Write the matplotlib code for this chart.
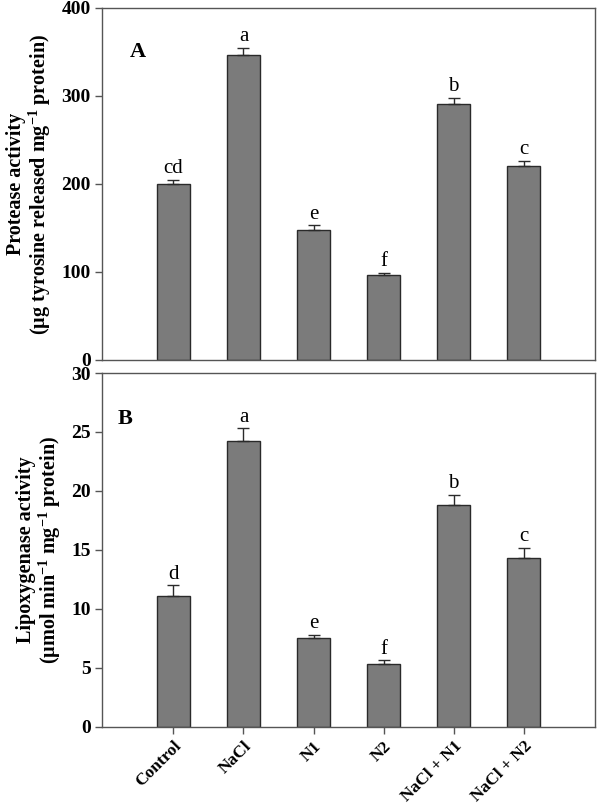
import matplotlib
matplotlib.use("Agg")
import matplotlib.pyplot as plt
import numpy as np

categories = ["Control", "NaCl", "N1", "N2", "NaCl + N1", "NaCl + N2"]
protease = [200, 346, 148, 96, 291, 220]
protease_err = [5, 9, 5, 3, 7, 6]
protease_letters = ["cd", "a", "e", "f", "b", "c"]
lox = [11.1, 24.2, 7.5, 5.35, 18.8, 14.35]
lox_err = [0.9, 1.1, 0.3, 0.3, 0.85, 0.85]
lox_letters = ["d", "a", "e", "f", "b", "c"]

plt.rcParams['font.family'] = ['Liberation Serif', 'DejaVu Serif']
plt.rcParams['mathtext.fontset'] = 'custom'
plt.rcParams['mathtext.rm'] = 'Liberation Serif:bold'
plt.rcParams['mathtext.bf'] = 'Liberation Serif:bold'
plt.rcParams['mathtext.it'] = 'Liberation Serif:bold'

fig = plt.figure(figsize=(5.97, 8.10), dpi=100)
axA = fig.add_axes([0.1709, 0.5556, 0.8258, 0.4346])
axB = fig.add_axes([0.1709, 0.1025, 0.8258, 0.4370])

x = np.arange(len(categories))
bar_color = '#7b7b7b'
edge = '#2a2a2a'
spine_col = '#555555'

def style(ax):
    for s in ax.spines.values():
        s.set_color(spine_col)
        s.set_linewidth(1.0)
    ax.set_xlim(-1.02, 6.02)
    ax.tick_params(axis='y', direction='out', length=5, width=1, color=spine_col, labelsize=14, pad=3)
    for lab in ax.get_yticklabels():
        lab.set_fontweight('bold')

# Panel A
axA.bar(x, protease, width=0.46, color=bar_color, edgecolor=edge, linewidth=1.0, zorder=2)
axA.errorbar(x, protease, yerr=[np.zeros(len(x)), protease_err], fmt='none', ecolor=edge, elinewidth=1.0, capsize=4, capthick=1.0, zorder=3)
for xi, v, e, l in zip(x, protease, protease_err, protease_letters):
    axA.text(xi, v + e + 2, l, ha='center', va='bottom', fontsize=15)
axA.set_ylim(0, 400)
axA.set_yticks([0, 100, 200, 300, 400])
axA.set_xticks([])
style(axA)
axA.set_ylabel("Protease activity\n(µg tyrosine released mg$^{\\mathbf{-1}}$ protein)", fontsize=14.5, fontweight='bold', labelpad=6, linespacing=1.05)
axA.text(0.057, 0.875, "A", transform=axA.transAxes, fontsize=16, fontweight='bold', ha='left', va='center')

# Panel B
axB.bar(x, lox, width=0.46, color=bar_color, edgecolor=edge, linewidth=1.0, zorder=2)
axB.errorbar(x, lox, yerr=[np.zeros(len(x)), lox_err], fmt='none', ecolor=edge, elinewidth=1.0, capsize=4, capthick=1.0, zorder=3)
for xi, v, e, l in zip(x, lox, lox_err, lox_letters):
    axB.text(xi, v + e + 0.15, l, ha='center', va='bottom', fontsize=15)
axB.set_ylim(0, 30)
axB.set_yticks([0, 5, 10, 15, 20, 25, 30])
axB.set_xticks(x)
axB.set_xticklabels(categories, rotation=45, ha='right', rotation_mode='anchor', fontsize=12.5, fontweight='bold')
axB.tick_params(axis='x', direction='out', length=5, width=1, color=spine_col, pad=3)
style(axB)
axB.set_ylabel("Lipoxygenase activity\n(µmol min$^{\\mathbf{-1}}$ mg$^{\\mathbf{-1}}$ protein)", fontsize=14.5, fontweight='bold', labelpad=6, linespacing=1.05)
axB.text(0.032, 0.87, "B", transform=axB.transAxes, fontsize=16, fontweight='bold', ha='left', va='center')

fig.savefig("out.png", dpi=100)
